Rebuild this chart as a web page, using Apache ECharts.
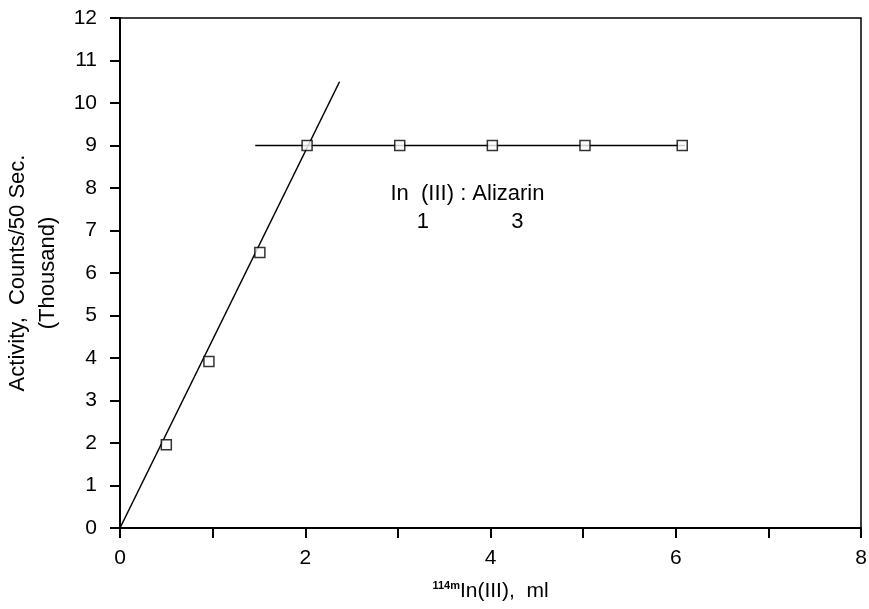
<!DOCTYPE html>
<html>
<head>
<meta charset="utf-8">
<script src="https://cdn.jsdelivr.net/npm/echarts@6/dist/echarts.min.js"></script>
<style>
  html, body { margin: 0; padding: 0; background: #fff; }
  #chart { width: 869px; height: 609px; }
</style>
</head>
<body>
<div id="chart"></div>
<script>
// measured points: 114mIn(III) volume (ml) vs activity (thousand counts / 50 s)
const volumes = [0.5, 0.96, 1.51, 2.02, 3.02, 4.02, 5.02, 6.07];
const activity = [1.96, 3.92, 6.48, 9.0, 9.0, 9.0, 9.0, 9.0];

// drawn straight lines
const riseLine = [[0, 0], [2.37, 10.5]];
const plateauLine = [[1.46, 9], [6.1, 9]];

const xTicks = [0, 2, 4, 6, 8];
const ratioNote = ["In  (III) : Alizarin", "1", "3"];

const font = "Liberation Sans, Arial, sans-serif";
const ink = "#000";

var chart = echarts.init(document.getElementById("chart"));

chart.setOption({
  backgroundColor: "#fff",
  animation: false,
  grid: {
    left: 120,
    right: 8,
    top: 18,
    bottom: 81,
    containLabel: false,
    outerBoundsMode: "none",
    show: true,
    borderColor: ink,
    borderWidth: 1.5,
  },
  xAxis: {
    type: "value",
    min: 0,
    max: 8,
    interval: 1,
    name: "{sup|114m}{main|In(III),  ml}",
    nameLocation: "middle",
    nameGap: 52,
    nameTextStyle: {
      rich: {
        sup: { fontFamily: font, fontSize: 11, fontWeight: "bold", color: ink, verticalAlign: "top", padding: [0, 0, 12, 0] },
        main: { fontFamily: font, fontSize: 21, color: ink },
      },
    },
    axisLine: { lineStyle: { color: ink, width: 2 } },
    axisTick: { length: 10, lineStyle: { color: ink, width: 2 } },
    axisLabel: {
      margin: 20,
      fontFamily: font,
      fontSize: 21,
      color: ink,
      formatter: (v) => (xTicks.includes(v) ? String(v) : ""),
    },
    splitLine: { show: false },
  },
  yAxis: {
    type: "value",
    min: 0,
    max: 12,
    interval: 1,
    name: "Activity,  Counts/50 Sec.\n(Thousand)",
    nameLocation: "middle",
    nameGap: 50,
    nameRotate: 90,
    nameTextStyle: { fontFamily: font, fontSize: 22, color: ink, lineHeight: 30 },
    axisLine: { lineStyle: { color: ink, width: 2 } },
    axisTick: { length: 10, lineStyle: { color: ink, width: 2 } },
    axisLabel: { margin: 23, fontFamily: font, fontSize: 21, color: ink },
    splitLine: { show: false },
  },
  series: [
    {
      type: "line",
      data: riseLine,
      symbol: "none",
      lineStyle: { color: ink, width: 1.5 },
      z: 2,
    },
    {
      type: "line",
      data: plateauLine,
      symbol: "none",
      lineStyle: { color: ink, width: 1.5 },
      z: 2,
    },
    {
      type: "scatter",
      data: volumes.map((v, i) => [v, activity[i]]),
      symbol: "rect",
      symbolSize: 10,
      itemStyle: { color: "#fff", borderColor: ink, borderWidth: 1.5 },
      z: 3,
    },
  ],
});

// ratio annotation, placed in data coordinates
const noteAt = (x, y) => chart.convertToPixel({ gridIndex: 0 }, [x, y]);
const p0 = noteAt(2.92, 7.87);
const p1 = noteAt(3.27, 7.21);
const p2 = noteAt(4.29, 7.21);
const noteFont = "22px " + font;
chart.setOption({
  graphic: [
    { type: "text", x: p0[0], y: p0[1], style: { text: ratioNote[0], font: noteFont, fill: ink, textVerticalAlign: "middle" } },
    { type: "text", x: p1[0], y: p1[1], style: { text: ratioNote[1], font: noteFont, fill: ink, textAlign: "center", textVerticalAlign: "middle" } },
    { type: "text", x: p2[0], y: p2[1], style: { text: ratioNote[2], font: noteFont, fill: ink, textAlign: "center", textVerticalAlign: "middle" } },
  ],
});
</script>
</body>
</html>
